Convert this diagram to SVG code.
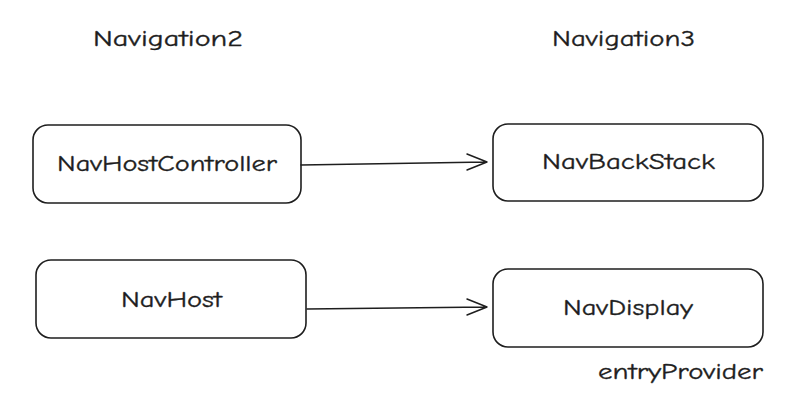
<svg xmlns="http://www.w3.org/2000/svg" width="797" height="408" viewBox="0 0 797 408">
<style>
.box{fill:#ffffff;stroke:#1e1e1e;stroke-width:1.6;}
.lbl{font-family:"Comic Neue","DejaVu Sans","Liberation Sans",sans-serif;font-size:23px;fill:#1e1e1e;stroke:#1e1e1e;stroke-width:0.35;}
.edge{fill:none;stroke:#1e1e1e;stroke-width:1.5;stroke-linecap:round;stroke-linejoin:round;}
</style>
<rect width="797" height="408" fill="#ffffff"/>
<g id="title-nav2"><text class="lbl" x="93" y="46" textLength="150" lengthAdjust="spacingAndGlyphs">Navigation2</text></g>
<g id="title-nav3"><text class="lbl" x="552" y="46" textLength="143" lengthAdjust="spacingAndGlyphs">Navigation3</text></g>
<g id="navhostcontroller">
<rect class="box" x="33" y="125" width="268" height="78" rx="15"/>
<text class="lbl" x="57" y="171" textLength="220" lengthAdjust="spacingAndGlyphs">NavHostController</text>
</g>
<g id="navhost">
<rect class="box" x="36" y="260" width="270" height="78" rx="15"/>
<text class="lbl" x="121" y="307" textLength="101" lengthAdjust="spacingAndGlyphs">NavHost</text>
</g>
<g id="navbackstack">
<rect class="box" x="493" y="124" width="270" height="77" rx="15"/>
<text class="lbl" x="542" y="169" textLength="173" lengthAdjust="spacingAndGlyphs">NavBackStack</text>
</g>
<g id="navdisplay">
<rect class="box" x="493" y="269" width="270" height="78" rx="15"/>
<text class="lbl" x="563" y="315" textLength="130" lengthAdjust="spacingAndGlyphs">NavDisplay</text>
</g>
<g id="entryprovider"><text class="lbl" x="598" y="379" textLength="165" lengthAdjust="spacingAndGlyphs">entryProvider</text></g>
<g id="connectors">
<path class="edge" d="M301 165 L487 162 M487 162 L467 154 M487 162 L467 170"/>
<path class="edge" d="M307 309 L487 307 M487 307 L467 299 M487 307 L467 315"/>
</g>
</svg>
